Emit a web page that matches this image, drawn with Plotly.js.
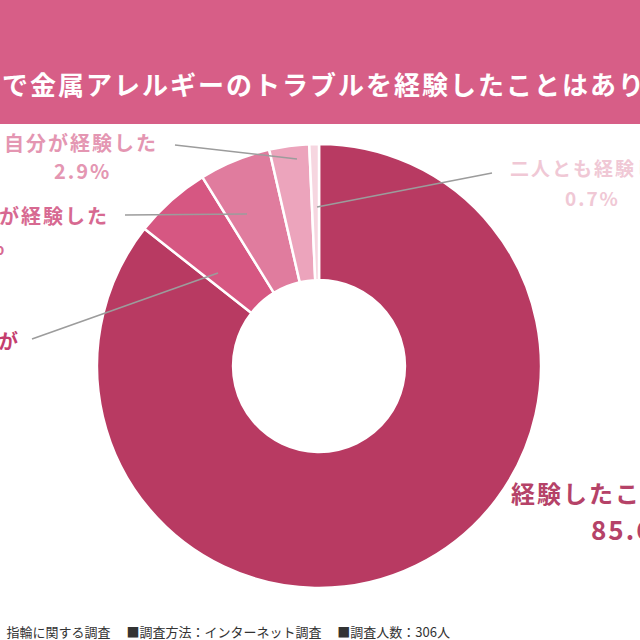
<!DOCTYPE html>
<html>
<head>
<meta charset="utf-8">
<script src="https://cdn.plot.ly/plotly-3.0.1.min.js"></script>
<style>
  html, body { margin: 0; padding: 0; background: #ffffff; }
  #chart { width: 640px; height: 640px; }
  .annotation-text { letter-spacing: 2px; }
</style>
</head>
<body>
<div id="chart"></div>
<script>
// Survey answers, in drawing order (clockwise from 12 o'clock)
const categories = ['経験したことがない', '経験はないが心配', 'パートナーのみが経験した', '自分が経験した', '二人とも経験した'];
const shares = [85.6, 5.6, 5.2, 2.9, 0.7];
// Label text per slice (line breaks marked with \n)
const labelLines = ['経験したことがない', '経験はないが\n心配', 'パートナーのみが経験した', '自分が経験した', '二人とも経験した'];

const headline = 'で金属アレルギーのトラブルを経験したことはありますか？';
const footnote = '指輪に関する調査　 ■調査方法：インターネット調査　 ■調査人数：306人';

// Styling
const sliceColors = ['#b83a62', '#d65782', '#e07c9e', '#eca4bc', '#f6d6e0'];
const labelColors = ['#b54268', '#c43e6e', '#d76991', '#e496b2', '#f0c8d5'];
const W = 640, H = 640;
const px = v => v / W;
const py = v => 1 - v / H;

// Label placement in page pixels: centre x, first line y, line step, font sizes, pct x
const labelPlace = [
  { x: 628, y: 492, step: 36, size: 24, pctSize: 26, pctX: 636 },
  { x: -46, y: 340, step: 30, size: 20, pctSize: 20, pctX: -46 },
  { x: -23, y: 215, step: 31, size: 20, pctSize: 20, pctX: -23 },
  { x: 81,  y: 142, step: 28, size: 20, pctSize: 20, pctX: 82 },
  { x: 594, y: 168, step: 29, size: 19, pctSize: 19, pctX: 592 }
];
// Leader lines: label end -> slice (page pixels)
const leaders = [
  null,
  [32, 339, 218, 273],
  [125, 215, 247, 214],
  [175, 145, 297, 159],
  [492, 173, 317, 207]
];

const FONT = '"Noto Sans CJK JP", "Noto Sans", sans-serif';

const annotations = [];
categories.forEach((cat, i) => {
  const p = labelPlace[i];
  const lines = labelLines[i].split('\n');
  lines.forEach((ln, k) => {
    annotations.push({
      xref: 'paper', yref: 'paper', x: px(p.x), y: py(p.y + k * p.step),
      xanchor: 'center', yanchor: 'middle', showarrow: false,
      text: ln,
      font: { family: FONT, size: p.size, color: labelColors[i], weight: 700 }
    });
  });
  annotations.push({
    xref: 'paper', yref: 'paper', x: px(p.pctX), y: py(p.y + lines.length * p.step),
    xanchor: 'center', yanchor: 'middle', showarrow: false,
    text: shares[i].toFixed(1) + '%',
    font: { family: FONT, size: p.pctSize, color: labelColors[i], weight: 700 }
  });
});

// Banner heading
annotations.push({
  xref: 'paper', yref: 'paper', x: px(0), y: py(84),
  xanchor: 'left', yanchor: 'middle', showarrow: false, align: 'left',
  text: headline,
  font: { family: FONT, size: 26, color: '#ffffff', weight: 700 }
});

const shapes = [{
  type: 'rect', xref: 'paper', yref: 'paper',
  x0: 0, x1: 1, y0: py(124), y1: 1,
  fillcolor: '#d75e87', line: { width: 0 }, layer: 'below'
}];
leaders.forEach(l => {
  if (!l) return;
  shapes.push({
    type: 'line', xref: 'paper', yref: 'paper',
    x0: px(l[0]), y0: py(l[1]), x1: px(l[2]), y1: py(l[3]),
    line: { color: '#9c9c9c', width: 1.6 }, layer: 'above'
  });
});

// Donut geometry: centre (319, 366), outer radius 222 px
const cx = 319, cy = 366, R = 222;

const trace = {
  type: 'pie',
  labels: categories,
  values: shares,
  sort: false,
  direction: 'clockwise',
  rotation: 0,
  hole: 0.387,
  textinfo: 'none',
  hoverinfo: 'none',
  showlegend: false,
  marker: { colors: sliceColors, line: { color: '#ffffff', width: 2.5 } },
  domain: { x: [px(cx - R), px(cx + R)], y: [py(cy + R), py(cy - R)] }
};

const layout = {
  width: W, height: H,
  margin: { l: 0, r: 0, t: 0, b: 0 },
  paper_bgcolor: '#ffffff',
  title: {
    text: footnote,
    x: px(450), xanchor: 'right', xref: 'paper',
    y: py(632), yanchor: 'middle', yref: 'paper',
    font: { family: FONT, size: 13, color: '#333333' }
  },
  annotations: annotations,
  shapes: shapes
};

Plotly.newPlot('chart', [trace], layout, { staticPlot: true, displayModeBar: false });
</script>
</body>
</html>
